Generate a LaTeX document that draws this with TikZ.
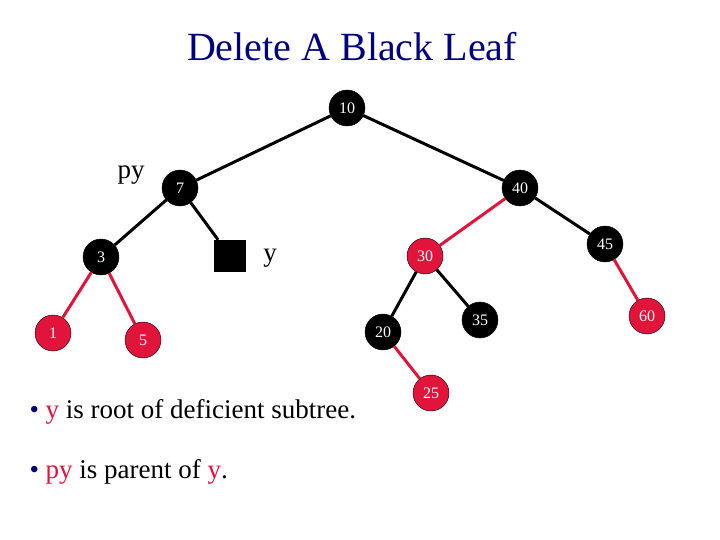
\documentclass[tikz,border=0pt]{standalone}
\usepackage{fontspec}
\setmainfont{Liberation Serif}
\definecolor{rbred}{RGB}{225,20,60}
\definecolor{titleblue}{RGB}{0,0,128}
\begin{document}
\begin{tikzpicture}[x=1pt,y=-1pt]
		\tikzset{blk/.style = {circle, fill=black, draw=black, minimum size=36pt, inner sep=0pt, text=white, font=\fontsize{16}{16}\selectfont}}
		\tikzset{rd/.style = {blk, fill=rbred}}
		\tikzset{edge/.style = {line width=3pt}}
		\tikzset{redge/.style = {line width=3pt, rbred}}
		\useasboundingbox (0,0) rectangle (720,540);
		
		\node at (352,47) {\fontsize{40}{40}\selectfont\color{titleblue}Delete A Black Leaf};
		
		\node[blk] (10) at (347,108) {10};
		\node[blk]  (7) at (180,188) {7};
		\node[blk] (40) at (520,188) {40};
		\node[blk]  (3) at (101,257) {3};
		\node[fill=black, minimum size=32pt, inner sep=0pt] (y) at (230,256) {};
		\node[rd]  (30) at (425,256) {30};
		\node[blk] (45) at (605,244) {45};
		\node[rd]   (1) at (53,333) {1};
		\node[rd]   (5) at (143,340) {5};
		\node[blk] (20) at (383,332) {20};
		\node[blk] (35) at (480,320) {35};
		\node[rd]  (60) at (647,316) {60};
		\node[rd]  (25) at (431,393) {25};
		
		\node (pylbl) at (131,175) {\fontsize{27}{27}\selectfont py};
		\node (ylbl) at (270,258) {\fontsize{27}{27}\selectfont y};
		
		\draw[edge] (10) to  (7);
		\draw[edge] (10) to (40);
		\draw[edge]  (7) to  (3);
		\draw[edge]  (7) to  (y);
		\draw[edge] (40) to (45);
		\draw[edge] (30) to (20);
		\draw[edge] (30) to (35);
		\draw[redge] (40) to (30);
		\draw[redge]  (3) to  (1);
		\draw[redge]  (3) to  (5);
		\draw[redge] (45) to (60);
		\draw[redge] (20) to (25);
		
		\node[anchor=west] (b1) at (26,412) {\fontsize{27}{27}\selectfont \textcolor{titleblue}{\textbullet} \textcolor{rbred}{y} is root of deficient subtree.};
		\node[anchor=west] (b2) at (26,472) {\fontsize{27}{27}\selectfont \textcolor{titleblue}{\textbullet} \textcolor{rbred}{py} is parent of \textcolor{rbred}{y}.};
		\end{tikzpicture}
\end{document}
